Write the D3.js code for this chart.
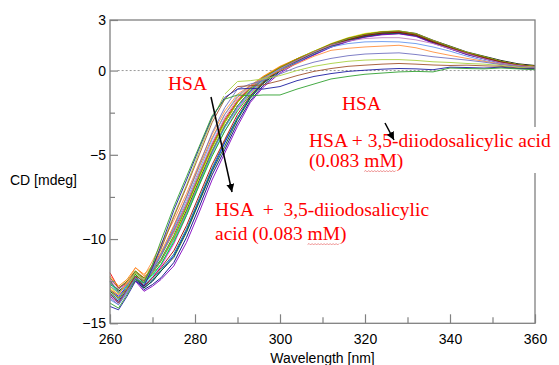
<!DOCTYPE html>
<html><head><meta charset="utf-8">
<script src="https://cdn.jsdelivr.net/npm/d3@7"></script>
<style>body{margin:0;background:#fff}svg{display:block}</style>
</head><body><svg id="c" width="559" height="365"></svg>
<script>
// ---- data ----
const wavelength = [260,262,264,266,268,270,272,275,278,281,284,287,290,293,296,300,304,308,312,316,320,324,328,332,336,340,344,348,352,356,360];

const k1  = [-12.0,-12.9,-12.6,-12.0,-12.3,-11.7,-10.9,-9.5,-7.9,-6.1,-4.4,-2.9,-1.8,-1.0,-0.4,0.2,0.6,1.05,1.5,1.85,2.1,2.25,2.3,2.15,1.75,1.4,1.05,0.8,0.55,0.35,0.25];
const k2  = [-12.5,-13.1,-12.7,-12.1,-12.6,-12.0,-11.3,-9.9,-8.3,-6.5,-4.8,-3.3,-2.1,-1.2,-0.5,0.15,0.65,1.1,1.55,1.9,2.15,2.3,2.35,2.2,1.8,1.45,1.1,0.85,0.6,0.4,0.3];
const k3  = [-13.0,-13.4,-12.8,-12.2,-12.9,-12.5,-11.9,-11.0,-9.5,-7.7,-5.9,-4.3,-2.8,-1.6,-0.75,0.05,0.55,1.0,1.45,1.8,2.05,2.2,2.25,2.1,1.7,1.35,1.0,0.75,0.5,0.3,0.2];
const k4  = [-12.7,-13.0,-12.5,-11.9,-12.4,-11.9,-11.2,-9.8,-8.1,-6.3,-4.6,-3.1,-1.9,-1.1,-0.45,0.2,0.7,1.15,1.55,1.9,2.15,2.28,2.3,2.12,1.72,1.38,1.02,0.78,0.5,0.32,0.22];
const k5  = [-12.4,-12.9,-12.7,-12.3,-12.8,-12.3,-11.6,-10.3,-8.6,-6.8,-5.0,-3.6,-2.3,-1.3,-0.6,0.1,0.6,1.05,1.5,1.85,2.08,2.22,2.28,2.12,1.7,1.32,1.0,0.72,0.48,0.3,0.18];
const k6  = [-12.6,-13.2,-12.8,-12.2,-12.7,-12.2,-11.5,-10.1,-8.5,-6.7,-4.9,-3.4,-2.2,-1.25,-0.55,0.12,0.62,1.08,1.52,1.88,2.1,2.25,2.3,2.15,1.75,1.4,1.05,0.8,0.55,0.35,0.2];
const k7  = [-12.9,-13.3,-12.6,-12.0,-12.5,-12.0,-11.3,-9.9,-8.2,-6.4,-4.6,-3.1,-1.9,-1.05,-0.4,0.2,0.7,1.15,1.6,1.95,2.2,2.32,2.35,2.18,1.78,1.42,1.08,0.82,0.55,0.35,0.25];
const k8  = [-13.3,-13.7,-13.0,-12.4,-13.0,-12.7,-12.3,-11.4,-9.9,-8.1,-6.2,-4.7,-3.1,-1.8,-0.9,-0.05,0.5,0.95,1.4,1.75,2.0,2.15,2.2,2.05,1.65,1.3,0.95,0.7,0.45,0.28,0.15];
const k9  = [-13.1,-13.5,-12.9,-12.3,-12.9,-12.5,-11.9,-11.1,-9.6,-7.8,-6.0,-4.5,-2.9,-1.65,-0.78,0.0,0.52,0.98,1.42,1.78,2.02,2.18,2.22,2.08,1.68,1.32,0.98,0.72,0.48,0.3,0.18];
const k10 = [-12.2,-12.8,-12.4,-11.7,-12.1,-11.6,-10.8,-9.2,-7.5,-5.7,-4.0,-2.6,-1.6,-0.9,-0.35,0.25,0.7,1.12,1.55,1.88,2.12,2.25,2.28,2.1,1.72,1.36,1.02,0.76,0.5,0.32,0.2];
const k11 = [-12.8,-13.2,-12.7,-12.1,-12.6,-12.1,-11.5,-10.2,-8.6,-6.8,-5.1,-3.6,-2.4,-1.4,-0.65,0.08,0.6,1.05,1.5,1.85,2.1,2.25,2.32,2.15,1.75,1.4,1.05,0.8,0.52,0.33,0.22];
const k12 = [-13.4,-13.8,-13.1,-12.5,-13.1,-12.8,-12.4,-11.6,-10.2,-8.4,-6.5,-4.9,-3.3,-1.9,-1.0,-0.15,0.45,0.92,1.38,1.72,1.98,2.12,2.18,2.02,1.62,1.28,0.95,0.7,0.45,0.28,0.15];
const k13 = [-12.6,-13.0,-12.5,-12.0,-12.5,-12.0,-11.3,-10.0,-8.4,-6.6,-4.8,-3.3,-2.1,-1.2,-0.5,0.15,0.65,1.1,1.55,1.9,2.12,2.28,2.32,2.15,1.76,1.4,1.05,0.78,0.52,0.32,0.2];
const k14 = [-13.2,-13.6,-12.9,-12.3,-12.8,-12.4,-11.8,-10.9,-9.4,-7.6,-5.8,-4.2,-2.8,-1.55,-0.72,0.05,0.55,1.0,1.45,1.8,2.05,2.2,2.25,2.08,1.7,1.34,1.0,0.74,0.5,0.3,0.18];
const k15 = [-12.3,-12.9,-12.5,-11.9,-12.3,-11.8,-11.0,-9.6,-8.0,-6.2,-4.5,-3.0,-1.85,-1.05,-0.42,0.18,0.68,1.12,1.58,1.92,2.15,2.3,2.33,2.16,1.76,1.4,1.06,0.8,0.55,0.35,0.24];
const k16 = [-13.0,-13.5,-12.9,-12.2,-12.8,-12.3,-11.7,-10.7,-9.2,-7.4,-5.6,-4.1,-2.6,-1.5,-0.7,0.05,0.58,1.02,1.48,1.82,2.08,2.22,2.27,2.1,1.7,1.35,1.02,0.76,0.5,0.32,0.2];

const o1 = [-13.8,-14.1,-13.3,-12.4,-12.6,-11.5,-10.1,-8.1,-6.3,-4.5,-2.7,-1.7,-1.45,-1.5,-1.45,-1.45,-1.1,-0.8,-0.5,-0.35,-0.22,-0.15,-0.08,-0.05,-0.08,0.15,0.12,0.1,0.15,0.1,0.05];
const o2 = [-14.0,-14.2,-13.4,-12.5,-12.8,-11.7,-10.4,-8.3,-6.5,-4.6,-2.8,-1.6,-1.1,-1.05,-1.1,-0.95,-0.6,-0.35,-0.18,-0.05,0.02,0.08,0.12,0.1,0.05,0.2,0.18,0.15,0.2,0.12,0.1];
const o3 = [-13.2,-13.8,-13.0,-12.2,-12.5,-11.6,-10.6,-8.7,-6.9,-5.0,-3.1,-1.7,-0.95,-0.9,-0.85,-0.6,-0.3,-0.05,0.12,0.25,0.32,0.38,0.42,0.38,0.33,0.3,0.32,0.28,0.25,0.15,0.1];
const o4 = [-13.0,-13.5,-12.9,-12.0,-12.4,-11.5,-10.5,-8.6,-6.8,-4.8,-2.9,-1.4,-0.65,-0.6,-0.5,-0.3,0.0,0.25,0.42,0.55,0.62,0.65,0.65,0.6,0.52,0.48,0.42,0.38,0.3,0.2,0.12];
const o5 = [-13.5,-13.9,-13.2,-12.3,-12.7,-11.9,-11.0,-9.3,-7.5,-5.6,-3.7,-2.2,-1.1,-0.8,-0.6,-0.2,0.2,0.5,0.72,0.88,0.98,1.02,1.05,0.95,0.82,0.72,0.62,0.5,0.35,0.25,0.15];
const o6 = [-13.0,-13.3,-12.6,-11.7,-12.2,-11.3,-10.3,-8.9,-7.3,-5.5,-3.8,-2.4,-1.4,-0.9,-0.5,0.0,0.4,0.85,1.2,1.32,1.4,1.45,1.5,1.35,1.1,0.9,0.72,0.55,0.38,0.25,0.2];
const o7 = [-13.6,-13.9,-13.1,-12.3,-12.6,-11.8,-10.9,-9.4,-7.7,-5.9,-4.1,-2.6,-1.5,-0.9,-0.45,0.05,0.5,1.0,1.4,1.6,1.7,1.72,1.7,1.6,1.4,1.15,0.85,0.6,0.4,0.25,0.2];
const o8 = [-12.8,-13.2,-12.7,-12.0,-12.4,-11.7,-10.9,-9.6,-7.9,-6.1,-4.3,-2.8,-1.7,-1.0,-0.5,0.1,0.6,1.1,1.5,1.75,1.9,1.95,1.95,1.82,1.6,1.3,1.0,0.7,0.45,0.3,0.2];

const seriesList = [k1,k2,k3,k4,k5,k6,k7,k8,k9,k10,k11,k12,k13,k14,k15,k16,o8,o7,o6,o5,o4,o3,o2,o1];
const seriesColors = ["#ff0000","#000000","#0000ff","#00a000","#ff00ff","#00c8c8","#e0e000","#000080","#006400","#ff8000","#00e000","#8000c0","#808080","#008080","#808000","#a00000",
                      "#c080c0","#6495ed","#ff9040","#7070c0","#a8d040","#a0522d","#1c1ca0","#30a030"];

const xMajor = [260,280,300,320,340,360];
const xMinor = [270,290,310,330,350];
const yMajor = [3,0,-5,-10,-15];
const yMinor = [-2.5,-7.5,-12.5];

// ---- drawing ----
const svg = d3.select("#c");
const x = d3.scaleLinear().domain([260,360]).range([110,535]);
const y = d3.scaleLinear().domain([-15,3]).range([323.3,20]);
const sans = "'Liberation Sans', Arial, sans-serif";
const serif = "'Liberation Serif', 'Times New Roman', serif";

// zero dotted line
svg.append("line").attr("x1", x(261.8)).attr("x2", x(360)).attr("y1", y(0)).attr("y2", y(0))
  .attr("stroke", "#999").attr("stroke-width", 1).attr("stroke-dasharray", "2,2");

const line = d3.line().x((d,i)=>x(wavelength[i])).y(d=>y(d)).curve(d3.curveLinear);
svg.append("g").selectAll("path").data(seriesList).join("path")
  .attr("d", line).attr("fill","none").attr("stroke",(d,i)=>seriesColors[i]).attr("stroke-width",0.9);

// axes
function styleAxis(g){ g.select(".domain").remove(); g.selectAll(".tick line").attr("stroke","#808080").attr("stroke-width",1.2);
  g.selectAll("text").attr("fill","#000").style("font-family",sans).style("font-size","14px"); }
svg.append("g").attr("transform","translate(0,323.3)")
  .call(d3.axisBottom(x).tickValues(xMajor).tickSizeInner(-9).tickSizeOuter(0).tickPadding(11).tickFormat(d3.format("d"))).call(styleAxis);
svg.append("g").attr("transform","translate(0,323.3)")
  .call(d3.axisBottom(x).tickValues(xMinor).tickSizeInner(-6).tickSizeOuter(0).tickFormat("")).call(styleAxis);
svg.append("g").attr("transform","translate(110,0)")
  .call(d3.axisLeft(y).tickValues(yMajor).tickSizeInner(-8).tickSizeOuter(0).tickPadding(4).tickFormat(d3.format("d"))).call(styleAxis);
svg.append("g").attr("transform","translate(110,0)")
  .call(d3.axisLeft(y).tickValues(yMinor).tickSizeInner(-5).tickSizeOuter(0).tickFormat("")).call(styleAxis);

svg.append("rect").attr("x",x(260)).attr("y",y(3)).attr("width",x(360)-x(260)).attr("height",y(-15)-y(3))
  .attr("fill","none").attr("stroke","#808080").attr("stroke-width",1.3);

svg.append("text").attr("x",10).attr("y",185).text("CD [mdeg]").style("font-family",sans).style("font-size","14px");
svg.append("text").attr("x",(x(260)+x(360))/2).attr("y",362.5).attr("text-anchor","middle").text("Wavelength [nm]")
  .style("font-family",sans).style("font-size","14px");

// annotation boxes
svg.append("rect").attr("x",157).attr("y",72).attr("width",68).attr("height",24).attr("fill","#fff");
svg.append("rect").attr("x",305).attr("y",127).attr("width",254).attr("height",46).attr("fill","#fff");

function redText(tx, ty, str){
  return svg.append("text").attr("x",tx).attr("y",ty).attr("fill","#ff0000").style("font-family",serif)
    .style("font-size","19.5px").style("white-space","pre").text(str);
}
redText(168,90,"HSA");
redText(342,110,"HSA");
redText(309,147,"HSA + 3,5-diiodosalicylic acid");
const t1 = redText(309,167,"(0.083 mM)");
redText(215,216,"HSA  +  3,5-diiodosalicylic");
const t2 = redText(215,240,"acid (0.083 mM)");

function wavy(t, str){
  const node = t.node(); const txt = node.textContent; const i0 = txt.indexOf(str), i1 = i0 + str.length - 1;
  const a = node.getExtentOfChar(i0), b = node.getExtentOfChar(i1);
  const x0 = a.x, x1 = b.x + b.width, yy = +t.attr("y") + 4.5;
  const p = d3.path(); p.moveTo(x0, yy); let up = true;
  for (let xx = x0 + 1.5; xx <= x1; xx += 1.5){ p.lineTo(xx, yy + (up ? -1 : 0.5)); up = !up; }
  svg.append("path").attr("d", p.toString()).attr("fill","none").attr("stroke","#e04040").attr("stroke-width",0.7).attr("opacity",0.8);
}
wavy(t1,"mM"); wavy(t2,"mM");

// arrows
svg.append("defs").append("marker").attr("id","ah").attr("viewBox","0 0 10 10").attr("refX",10).attr("refY",5)
  .attr("markerWidth",8).attr("markerHeight",8).attr("markerUnits","userSpaceOnUse").attr("orient","auto")
  .append("path").attr("d","M0,0 L10,5 L0,10 z").attr("fill","#000");
svg.append("line").attr("x1",211).attr("y1",97).attr("x2",232).attr("y2",192).attr("stroke","#000").attr("stroke-width",1.5).attr("marker-end","url(#ah)");
svg.append("line").attr("x1",385).attr("y1",123).attr("x2",394).attr("y2",140).attr("stroke","#000").attr("stroke-width",1.5).attr("marker-end","url(#ah)");
</script></body></html>
